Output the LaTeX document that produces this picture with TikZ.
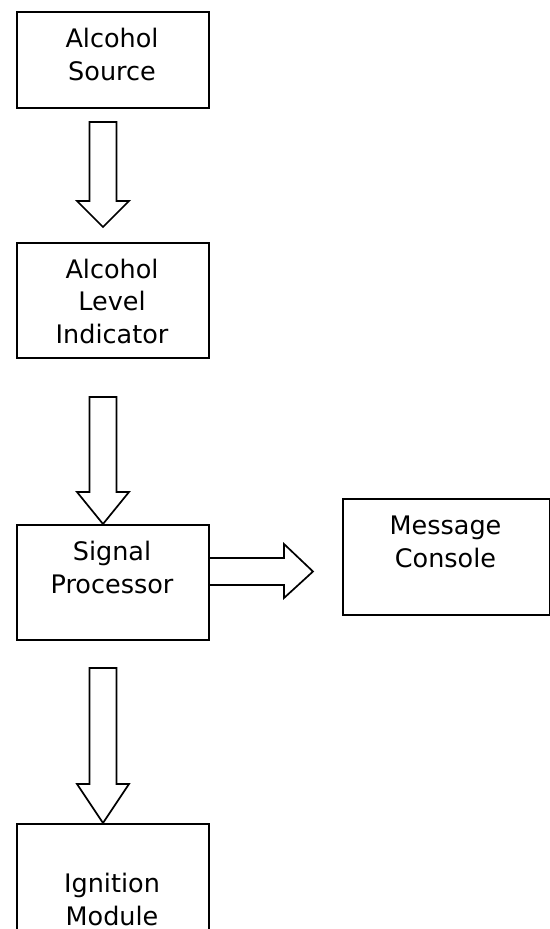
\documentclass[tikz,border=0pt]{standalone}
\usepackage{fontspec}
\setmainfont{DejaVu Sans}
\begin{document}
\begin{tikzpicture}[x=1bp,y=-1bp,
  box/.style={draw=black,line width=2bp,rectangle,inner sep=0pt,anchor=north west},
  label text/.style={font=\fontsize{25.5bp}{32.5bp}\selectfont,align=center,anchor=base,inner sep=0pt},
  blockarrow/.style={draw=black,line width=1.7bp,fill=white,line join=miter}]
\useasboundingbox (0,0) rectangle (550,929);
\clip (0,0) rectangle (550,929);

% boxes
\node[box,minimum width=192bp,minimum height=96bp]  (source)    at (16,11)  {};
\node[box,minimum width=192bp,minimum height=115bp] (indicator) at (16,242) {};
\node[box,minimum width=192bp,minimum height=115bp] (processor) at (16,524) {};
\node[box,minimum width=207bp,minimum height=116bp] (console)   at (342,498) {};
\node[box,minimum width=192bp,minimum height=140bp] (ignition)  at (16,823) {};

% box captions, placed by the baseline of their last line
\node[label text] (sourceText)    at (112,80)  {Alcohol\\Source};
\node[label text] (indicatorText) at (112,343) {Alcohol\\Level\\Indicator};
\node[label text] (processorText) at (112,593) {Signal\\Processor};
\node[label text] (consoleText)   at (445.5,567) {Message\\Console};
\node[label text] (ignitionText)  at (112,925) {Ignition\\Module};

% downward block arrows: #1 centre x, #2 shaft top, #3 head base, #4 tip
\newcommand{\downblock}[4]{%
  \draw[blockarrow] ({#1-13.5},#2) -- ({#1+13.5},#2) -- ({#1+13.5},#3)
    -- ({#1+26},#3) -- (#1,#4) -- ({#1-26},#3) -- ({#1-13.5},#3) -- cycle;}

\downblock{103}{122}{201}{227}
\downblock{103}{397}{492}{524}
\downblock{103}{668}{784}{823}

% rightward block arrow from the processor to the console
\draw[blockarrow] (processor.east |- 0,558) -- (284,558) -- (284,544) -- (313,571.5)
  -- (284,598) -- (284,585) -- (processor.east |- 0,585);
\end{tikzpicture}
\end{document}
